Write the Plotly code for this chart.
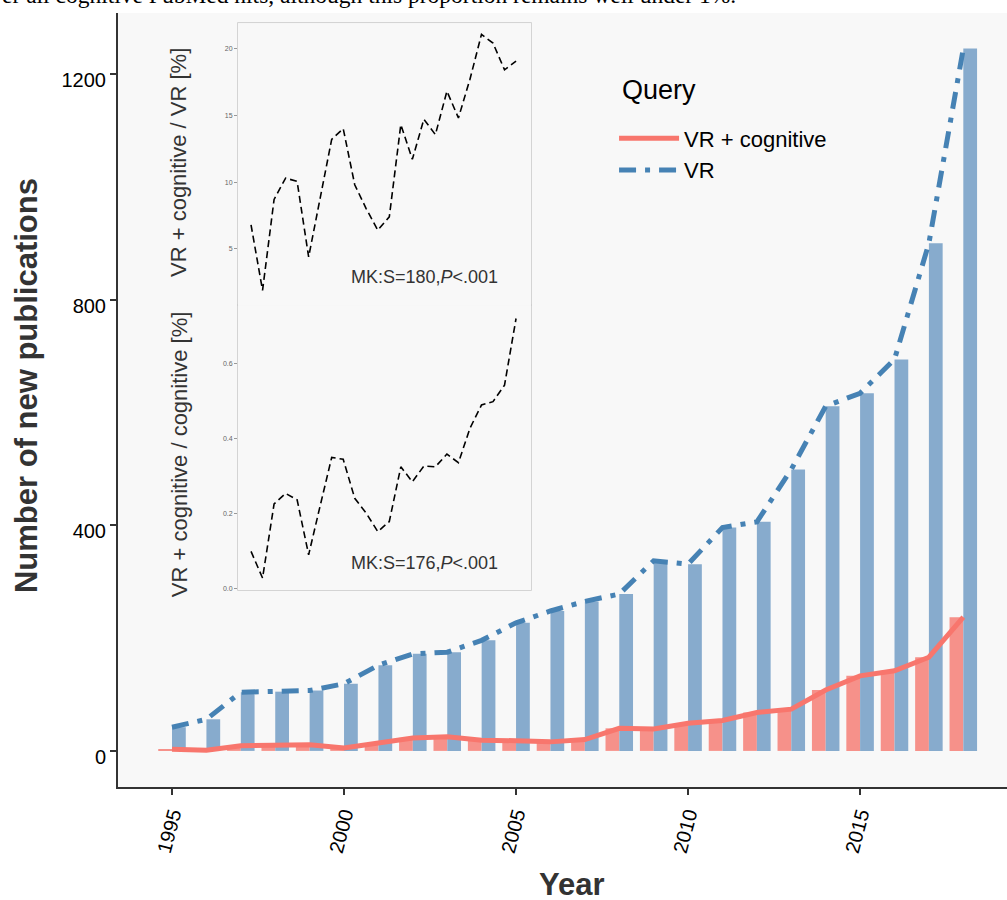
import plotly.graph_objects as go

years = list(range(1995, 2019))
vr = [42, 56, 104, 105, 107, 119, 152, 172, 175, 196, 227, 248, 265, 278,
      337, 331, 396, 406, 499, 611, 634, 694, 900, 1245]
vr_cog = [3, 1, 9, 11, 11, 5, 13, 23, 25, 19, 18, 16, 20, 40,
          39, 49, 54, 68, 74, 108, 133, 142, 166, 237]
pct_of_vr = [6.8, 1.9, 8.7, 10.3, 10.05, 4.4, 8.8, 13.2, 14.0, 9.8, 8.0, 6.4,
             7.4, 14.3, 11.7, 14.7, 13.55, 16.8, 14.8, 17.7, 21.05, 20.4, 18.4, 19.05]
pct_of_cog = [0.098, 0.027, 0.225, 0.253, 0.236, 0.089, 0.22, 0.349, 0.344, 0.24,
              0.20, 0.151, 0.178, 0.324, 0.284, 0.326, 0.324, 0.358, 0.335, 0.427,
              0.489, 0.498, 0.542, 0.72]
xticks = [1995, 2000, 2005, 2010, 2015]
yticks = [0, 400, 800, 1200]
inset1_ticks = [5, 10, 15, 20]
inset2_ticks = [0.0, 0.2, 0.4, 0.6]

RED = "#F8766D"
BLUE = "#4682B4"
FONT = "Liberation Sans"

fig = go.Figure()
fig.add_trace(go.Bar(x=years, y=vr_cog, width=0.4, offset=-0.4,
                     marker=dict(color="#F6918A", line=dict(width=0)),
                     showlegend=False, hoverinfo="skip"))
fig.add_trace(go.Bar(x=years, y=vr, width=0.4, offset=0,
                     marker=dict(color="#87ABCD", line=dict(width=0)),
                     showlegend=False, hoverinfo="skip"))
fig.add_trace(go.Scatter(x=years, y=vr_cog, mode="lines", name="VR + cognitive",
                         line=dict(color=RED, width=5)))
fig.add_trace(go.Scatter(x=years, y=vr, mode="lines", name="VR",
                         line=dict(color=BLUE, width=5, dash="17px,9px,5px,9px")))

fig.add_trace(go.Scatter(x=years, y=pct_of_vr, mode="lines", xaxis="x2", yaxis="y2",
                         line=dict(color="black", width=1.6, dash="7px,4px"),
                         showlegend=False))
fig.add_trace(go.Scatter(x=years, y=pct_of_cog, mode="lines", xaxis="x3", yaxis="y3",
                         line=dict(color="black", width=1.6, dash="7px,4px"),
                         showlegend=False))

axis_common = dict(showgrid=False, zeroline=False, showline=True, linecolor="#333",
                   linewidth=2, ticks="outside", ticklen=6, tickwidth=1.5,
                   tickcolor="#333", tickfont=dict(family=FONT, size=20, color="black"))

inset_y = dict(showgrid=False, zeroline=False, showline=False, ticks="outside",
               ticklen=3, tickwidth=1, tickcolor="#999",
               tickfont=dict(family=FONT, size=7, color="#666"))
inset_x = dict(showgrid=False, zeroline=False, showline=False, showticklabels=False,
               ticks="", range=[1993.87, 2019.3])

dx0, dx1 = 0.135, 0.4646
fig.update_layout(
    width=1007, height=900,
    margin=dict(l=118, r=0, t=13, b=113),
    paper_bgcolor="white", plot_bgcolor="#F8F8F8",
    barmode="overlay",
    font=dict(family=FONT),
    xaxis=dict(range=[1993.43, 2019.27], tickvals=xticks,
               ticktext=[str(v) for v in xticks], tickangle=-75, **axis_common),
    yaxis=dict(range=[-64, 1308], tickvals=yticks, ticklabelshift=6, **axis_common),
    xaxis2=dict(domain=[dx0, dx1], anchor="y2", **inset_x),
    yaxis2=dict(domain=[0.6227, 0.987], anchor="x2", range=[0.8, 21.9],
                tickvals=inset1_ticks, **inset_y),
    xaxis3=dict(domain=[dx0, dx1], anchor="y3", **inset_x),
    yaxis3=dict(domain=[0.2545, 0.6227], anchor="x3", range=[-0.005, 0.756],
                tickvals=inset2_ticks, ticktext=["0.0", "0.2", "0.4", "0.6"], **inset_y),
    legend=dict(x=0.558, y=0.865, xanchor="left", yanchor="top",
                bgcolor="rgba(0,0,0,0)", itemwidth=60,
                font=dict(family=FONT, size=22, color="black"), tracegroupgap=0),
    shapes=[
        dict(type="rect", xref="paper", yref="paper", x0=dx0, x1=dx1, y0=0.6227, y1=0.987,
             fillcolor="white", line=dict(color="#C8C8C8", width=1.5), layer="below"),
        dict(type="rect", xref="paper", yref="paper", x0=dx0, x1=dx1, y0=0.2545, y1=0.6227,
             fillcolor="white", line=dict(color="#C8C8C8", width=1.5), layer="below"),
    ],
    annotations=[
        dict(text="<b>Number of new publications</b>", xref="paper", yref="paper",
             x=-0.103, y=0.5185, textangle=-90, showarrow=False,
             font=dict(family=FONT, size=31, color="#333"), xanchor="center", yanchor="middle"),
        dict(text="<b>Year</b>", xref="paper", yref="paper", x=0.511, y=-0.1266,
             showarrow=False, font=dict(family=FONT, size=31, color="#333"),
             xanchor="center", yanchor="middle"),
        dict(text="Query", xref="paper", yref="paper", x=0.5647, y=0.9005,
             showarrow=False, xanchor="left", yanchor="middle",
             font=dict(family=FONT, size=27, color="black")),
        dict(text="VR + cognitive / VR [%]", xref="paper", yref="paper",
             x=0.0686, y=0.8075, textangle=-90, showarrow=False,
             font=dict(family=FONT, size=22, color="#333"), xanchor="center", yanchor="middle"),
        dict(text="VR + cognitive / cognitive [%]", xref="paper", yref="paper",
             x=0.0686, y=0.430, textangle=-90, showarrow=False,
             font=dict(family=FONT, size=22, color="#333"), xanchor="center", yanchor="middle"),
        dict(text="MK:S=180,<i>P</i>&lt;.001", xref="paper", yref="paper",
             x=0.4297, y=0.659, showarrow=False, xanchor="right", yanchor="middle",
             font=dict(family=FONT, size=18, color="#333")),
        dict(text="MK:S=176,<i>P</i>&lt;.001", xref="paper", yref="paper",
             x=0.4297, y=0.2894, showarrow=False, xanchor="right", yanchor="middle",
             font=dict(family=FONT, size=18, color="#333")),
        dict(text="er all cognitive PubMed hits, although this proportion remains well under 1%.",
             xref="paper", yref="paper", x=-0.1327, y=1.0235, showarrow=False,
             xanchor="left", yanchor="middle",
             font=dict(family="Liberation Serif", size=23.5, color="black")),
    ],
)

fig.write_html("out.html", config={"displayModeBar": False},
               post_script="document.body.style.margin='0px';")
